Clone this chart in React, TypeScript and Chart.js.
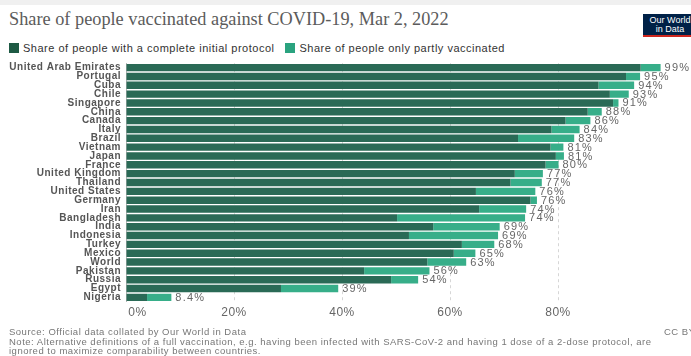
import React, { useEffect, useRef } from "react";
import { Chart, registerables } from "chart.js";

Chart.register(...registerables);

const countries = [
  "United Arab Emirates", "Portugal", "Cuba", "Chile", "Singapore", "China", "Canada",
  "Italy", "Brazil", "Vietnam", "Japan", "France", "United Kingdom", "Thailand",
  "United States", "Germany", "Iran", "Bangladesh", "India", "Indonesia", "Turkey",
  "Mexico", "World", "Pakistan", "Russia", "Egypt", "Nigeria",
];
const complete = [
  95.3, 92.6, 87.5, 89.6, 90.2, 85.5, 81.4, 78.8, 72.6, 78.6, 79.6, 77.7, 72.0, 71.2,
  64.8, 74.9, 65.4, 50.2, 56.9, 52.4, 62.2, 60.7, 55.8, 44.1, 49.1, 28.7, 3.9,
];
const partly = [
  3.7, 2.6, 6.6, 3.5, 1.0, 2.6, 4.6, 5.2, 10.4, 2.4, 1.5, 2.4, 5.2, 5.8,
  11.0, 1.2, 8.7, 23.7, 12.3, 16.5, 6.0, 4.0, 7.2, 12.1, 5.0, 10.6, 4.5,
];
const totalLabels = [
  "99%", "95%", "94%", "93%", "91%", "88%", "86%", "84%", "83%", "81%", "81%", "80%", "77%", "77%",
  "76%", "76%", "74%", "74%", "69%", "69%", "68%", "65%", "63%", "56%", "54%", "39%", "8.4%",
];
const xTicks = [0, 20, 40, 60, 80];

const DARK = "#2a6a56";
const LIGHT = "#37ae89";
const SANS = "'Liberation Sans', Arial, sans-serif";

const spacing = {
  id: "spacing",
  beforeDraw(chart: any) {
    chart.ctx.letterSpacing = "0.5px";
  },
  afterDraw(chart: any) {
    chart.ctx.letterSpacing = "0px";
  },
};

const valueLabels = {
  id: "valueLabels",
  afterDatasetsDraw(chart: any) {
    const { ctx, scales } = chart;
    const x = scales.x;
    const y = scales.y;
    ctx.save();
    ctx.letterSpacing = "1.2px";
    ctx.font = `11px ${SANS}`;
    ctx.fillStyle = "#666";
    ctx.textBaseline = "middle";
    ctx.textAlign = "left";
    countries.forEach((_, i) => {
      const total = complete[i] + partly[i];
      ctx.fillText(totalLabels[i], x.getPixelForValue(total) + 4, y.getPixelForValue(i) + 0.5);
    });
    ctx.restore();
  },
};

function ChartView() {
  const ref = useRef<HTMLCanvasElement>(null);
  useEffect(() => {
    if (!ref.current) return;
    const chart = new Chart(ref.current, {
      type: "bar",
      data: {
        labels: countries,
        datasets: [
          { label: "complete", data: complete, backgroundColor: DARK, borderWidth: 0 },
          { label: "partly", data: partly, backgroundColor: LIGHT, borderWidth: 0 },
        ],
      },
      options: {
        indexAxis: "y",
        animation: false,
        responsive: false,
        devicePixelRatio: 1,
        datasets: { bar: { categoryPercentage: 1, barPercentage: 0.84 } },
        layout: { padding: { left: 0, right: 25, top: 63.2, bottom: 34.2 } },
        plugins: { legend: { display: false }, tooltip: { enabled: false } },
        scales: {
          x: {
            stacked: true,
            min: 0,
            max: 100,
            afterFit: (s: any) => { s.height = 20; },
            afterBuildTicks: (s: any) => {
              s.ticks = [...xTicks, 100].map((v) => ({ value: v }));
            },
            grid: {
              drawTicks: false,
              color: (c: any) => (c.tick && (c.tick.value === 0 || c.tick.value === 100) ? "rgba(0,0,0,0)" : "#d6d6d6"),
            },
            border: { display: false, dash: [3, 3] },
            ticks: {
              padding: 4,
              color: "#666",
              font: { family: SANS, size: 12 },
              callback: (v: any) => (v === 100 ? "" : v === 0 ? "      0%" : v + "%"),
            },
          },
          y: {
            stacked: true,
            afterFit: (s: any) => { s.width = 126; },
            grid: { display: false, drawTicks: false },
            border: { display: true, color: "#b8b8b8", width: 1 },
            ticks: {
              padding: 5,
              autoSkip: false,
              color: "#555",
              font: { family: SANS, size: 10, weight: "bold" },
            },
          },
        },
      },
      plugins: [spacing, valueLabels],
    });
    return () => chart.destroy();
  }, []);
  return (
    <canvas
      ref={ref}
      width={691}
      height={356}
      style={{ position: "absolute", left: 0, top: 0, width: 691, height: 356 }}
    />
  );
}

export default function App() {
  const legendItem = (color: string, text: string) => (
    <span style={{ display: "inline-flex", alignItems: "center", marginRight: 11 }}>
      <span style={{ display: "inline-block", width: 10, height: 10, background: color, marginRight: 4 }} />
      <span>{text}</span>
    </span>
  );
  return (
    <div
      style={{
        position: "absolute", left: 0, top: 0, width: 691, height: 356,
        background: "#fff", overflow: "hidden", fontFamily: SANS,
      }}
    >
      <div style={{ position: "absolute", left: 0, top: 0, width: 691, height: 5, background: "#f0f0f0" }} />
      <div
        style={{
          position: "absolute", left: 9, top: 9, fontFamily: "'Liberation Serif', 'DejaVu Serif', serif",
          fontSize: 18.3, color: "#5b5b5b", whiteSpace: "nowrap",
        }}
      >
        Share of people vaccinated against COVID-19, Mar 2, 2022
      </div>
      <div
        style={{
          position: "absolute", left: 643, top: 14, width: 54, height: 23, background: "#002147",
          borderBottom: "2px solid #ce261e", color: "#fff", fontSize: 9, lineHeight: "9px",
          textAlign: "center", paddingTop: 2, boxSizing: "border-box", whiteSpace: "nowrap",
        }}
      >
        Our World<br />in Data
      </div>
      <div
        style={{
          position: "absolute", left: 9, top: 42, fontSize: 11, letterSpacing: "0.5px", color: "#333",
          whiteSpace: "nowrap", display: "flex",
        }}
      >
        {legendItem("#1e5a44", "Share of people with a complete initial protocol")}
        {legendItem("#2aa37f", "Share of people only partly vaccinated")}
      </div>
      <ChartView />
      <div
        style={{
          position: "absolute", left: 9, top: 327, fontSize: 9.5, letterSpacing: "0.5px", color: "#777",
          lineHeight: "9.6px", width: 680, whiteSpace: "nowrap",
        }}
      >
        Source: Official data collated by Our World in Data
        <br />
        Note: Alternative definitions of a full vaccination, e.g. having been infected with SARS-CoV-2 and having 1 dose of a 2-dose protocol, are
        <br />
        ignored to maximize comparability between countries.
      </div>
      <div style={{ position: "absolute", left: 664, top: 327, fontSize: 9.5, letterSpacing: "0.5px", color: "#777", lineHeight: "9.6px", whiteSpace: "nowrap" }}>
        CC BY
      </div>
    </div>
  );
}
